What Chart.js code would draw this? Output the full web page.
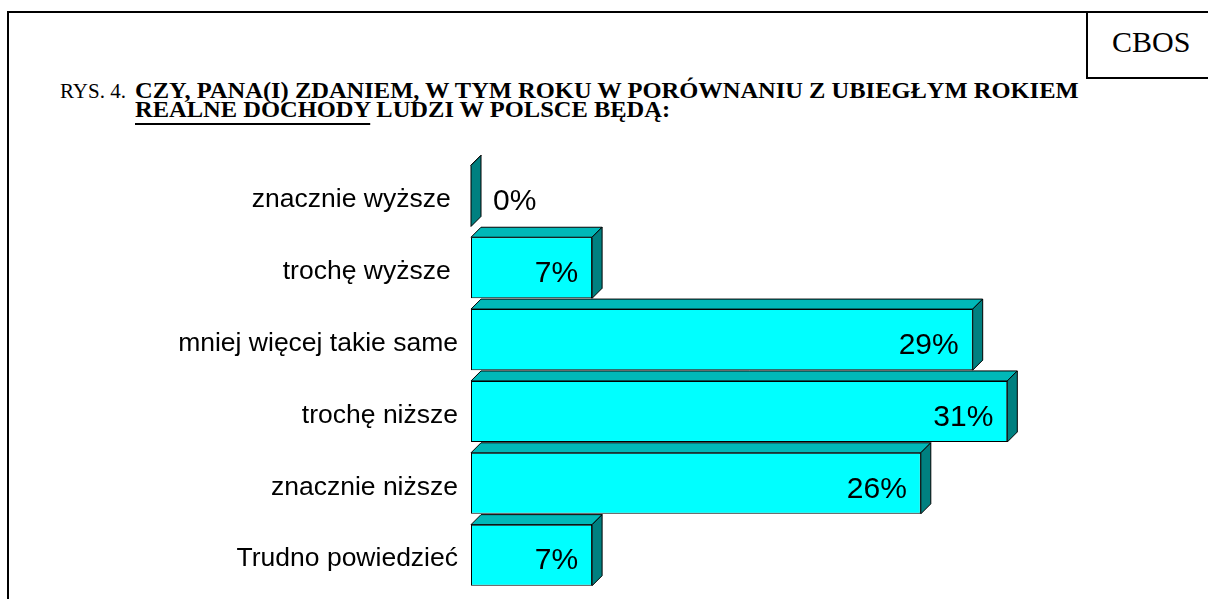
<!DOCTYPE html>
<html lang="pl">
<head>
<meta charset="utf-8">
<title>CBOS - realne dochody</title>
<script src="https://cdn.jsdelivr.net/npm/chart.js@4.4.1/dist/chart.umd.min.js"></script>
<style>
  html, body { margin: 0; padding: 0; background: #fff; }
  body { width: 1208px; height: 599px; position: relative; overflow: hidden; }
  .line { position: absolute; background: #000; }
  .serif { position: absolute; font-family: "Liberation Serif", "Times New Roman", serif; color: #000; white-space: nowrap; }
  #rys { left: 60px; top: 81px; font-size: 21px; line-height: 21px; }
  .head { left: 135px; font-size: 23px; line-height: 23px; font-weight: bold; transform: scaleX(1.065); transform-origin: left top; }
  #head1 { top: 79px; }
  #head2 { top: 97.5px; }
  #head2 u { text-decoration-thickness: 2px; text-underline-offset: 6px; }
  #cbos-box { position: absolute; left: 1086px; top: 11px; width: 130px; height: 64px; border: 2px solid #000; }
  #cbos { left: 1112px; top: 26.5px; font-size: 30px; line-height: 30px; }
  #chart-box { position: absolute; left: 0; top: 0; width: 1208px; height: 620px; }
</style>
</head>
<body>
<div class="line" style="left:7px; top:11px; width:1201px; height:2px;"></div>
<div class="line" style="left:7px; top:11px; width:2px; height:588px;"></div>
<div id="cbos-box"></div>
<div class="serif" id="cbos">CBOS</div>
<div class="serif" id="rys">RYS. 4.</div>
<div class="serif head" id="head1">CZY, PANA(I) ZDANIEM, W TYM ROKU W PORÓWNANIU Z UBIEGŁYM ROKIEM</div>
<div class="serif head" id="head2"><u>REALNE DOCHODY</u> LUDZI W POLSCE BĘDĄ:</div>
<div id="chart-box"><canvas id="income-chart"></canvas></div>

<script>
// kategorie i wartości (%)
const categories = [
  "znacznie wyższe ",
  "trochę wyższe ",
  "mniej więcej takie same",
  "trochę niższe",
  "znacznie niższe",
  "Trudno powiedzieć",
];
const values = [0, 7, 29, 31, 26, 7];
const valueLabels = values.map((v) => `${v}%`);

// efekt 3D: górna i prawa ściana słupka
const DEPTH = 10;
const bar3d = {
  id: "bar3d",
  afterDatasetsDraw(chart) {
    const ctx = chart.ctx;
    const meta = chart.getDatasetMeta(0);
    ctx.save();
    ctx.lineWidth = 1;
    ctx.strokeStyle = "#000";
    meta.data.forEach((bar) => {
      const { x, y, base, height } = bar.getProps(["x", "y", "base", "height"], true);
      const top = y - height / 2;
      const bottom = y + height / 2;
      // górna ściana
      ctx.fillStyle = "#00B8B8";
      ctx.beginPath();
      ctx.moveTo(base, top);
      ctx.lineTo(base + DEPTH, top - DEPTH);
      ctx.lineTo(x + DEPTH, top - DEPTH);
      ctx.lineTo(x, top);
      ctx.closePath();
      ctx.fill();
      ctx.stroke();
      // prawa ściana
      ctx.fillStyle = "#008080";
      ctx.beginPath();
      ctx.moveTo(x, top);
      ctx.lineTo(x + DEPTH, top - DEPTH);
      ctx.lineTo(x + DEPTH, bottom - DEPTH);
      ctx.lineTo(x, bottom);
      ctx.closePath();
      ctx.fill();
      ctx.stroke();
    });
    ctx.restore();
  },
};

// etykiety wartości
const barLabels = {
  id: "barLabels",
  afterDraw(chart) {
    const ctx = chart.ctx;
    const meta = chart.getDatasetMeta(0);
    ctx.save();
    ctx.font = '30px "Liberation Sans", Arial, sans-serif';
    ctx.fillStyle = "#000";
    ctx.textBaseline = "middle";
    meta.data.forEach((bar, i) => {
      if (values[i] === 0) {
        ctx.textAlign = "left";
        ctx.fillText(valueLabels[i], bar.base + 22, bar.y + 6);
      } else {
        ctx.textAlign = "right";
        ctx.fillText(valueLabels[i], bar.x - 14, bar.y + 6);
      }
    });
    ctx.restore();
  },
};

const ctxChart = document.getElementById("income-chart");
new Chart(ctxChart, {
  type: "bar",
  data: {
    labels: categories,
    datasets: [
      {
        data: values,
        backgroundColor: "#00FFFF",
        borderColor: "#000",
        borderWidth: 1,
        borderSkipped: false,
        barPercentage: 0.85,
        categoryPercentage: 1,
      },
    ],
  },
  options: {
    indexAxis: "y",
    responsive: true,
    maintainAspectRatio: false,
    animation: false,
    layout: { padding: { top: 160, bottom: 9, right: 45, left: 0 } },
    plugins: { legend: { display: false }, tooltip: { enabled: false } },
    scales: {
      x: { display: false, min: 0, max: 40 },
      y: {
        afterFit: (scale) => { scale.width = 471; },
        grid: { display: false, drawTicks: false },
        border: { display: false },
        ticks: {
          color: "#000",
          padding: 13,
          labelOffset: 4,
          font: { family: '"Liberation Sans", Arial, sans-serif', size: 26.5 },
        },
      },
    },
  },
  plugins: [bar3d, barLabels],
});
</script>
</body>
</html>
